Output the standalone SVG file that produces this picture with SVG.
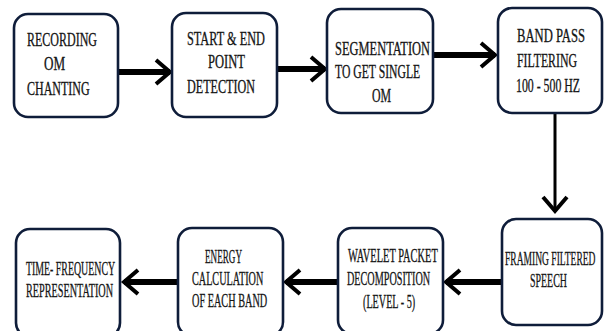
<svg xmlns="http://www.w3.org/2000/svg" width="604" height="331" viewBox="0 0 604 331">
<style>
.box{fill:#fff;stroke:#0f1d3a;stroke-width:2.6}
.t{font-family:"Liberation Serif","Times New Roman",serif;font-size:18px;fill:#141414;stroke:#141414;stroke-width:0.3}
.ar{stroke:#000;fill:none;stroke-width:6}
.av{stroke:#000;fill:none;stroke-width:3}
</style>
<defs>
<marker id="head" markerUnits="userSpaceOnUse" viewBox="-18 -16 22 32" markerWidth="22" markerHeight="32" refX="0" refY="0" orient="auto">
<path d="M-14,-12 L0,0 L-14,12" fill="none" stroke="#000" stroke-width="4" stroke-linejoin="miter"/>
</marker>
</defs>
<g id="connectors">
<line class="ar" x1="118" y1="72" x2="170" y2="72" marker-end="url(#head)"/>
<line class="ar" x1="277" y1="69" x2="325" y2="69" marker-end="url(#head)"/>
<line class="ar" x1="433" y1="55" x2="495" y2="55" marker-end="url(#head)"/>
<line class="av" x1="555" y1="113" x2="555" y2="211" marker-end="url(#head)"/>
<line class="ar" x1="502" y1="282" x2="446" y2="282" stroke-width="5" marker-end="url(#head)"/>
<line class="ar" x1="338" y1="282" x2="286" y2="282" stroke-width="5" marker-end="url(#head)"/>
<line class="ar" x1="178" y1="282" x2="124" y2="282" stroke-width="5" marker-end="url(#head)"/>
</g>
<g id="n1">
<rect class="box" x="14" y="14" width="104" height="103" rx="14"/>
<text class="t" transform="translate(27,46) scale(0.66,1)" textLength="106" lengthAdjust="spacingAndGlyphs">RECORDING</text>
<text class="t" transform="translate(44,70) scale(0.66,1)" textLength="32" lengthAdjust="spacingAndGlyphs">OM</text>
<text class="t" transform="translate(27,95) scale(0.66,1)" textLength="95" lengthAdjust="spacingAndGlyphs">CHANTING</text>
</g>
<g id="n2">
<rect class="box" x="172" y="13" width="105" height="104" rx="14"/>
<text class="t" transform="translate(187,45) scale(0.66,1)" textLength="118" lengthAdjust="spacingAndGlyphs">START &amp; END</text>
<text class="t" transform="translate(208,68) scale(0.66,1)" textLength="56" lengthAdjust="spacingAndGlyphs">POINT</text>
<text class="t" transform="translate(187,93) scale(0.66,1)" textLength="103" lengthAdjust="spacingAndGlyphs">DETECTION</text>
</g>
<g id="n3">
<rect class="box" x="327" y="9" width="106" height="104" rx="14"/>
<text class="t" transform="translate(335,55) scale(0.66,1)" textLength="144" lengthAdjust="spacingAndGlyphs">SEGMENTATION</text>
<text class="t" transform="translate(335,78) scale(0.66,1)" textLength="129" lengthAdjust="spacingAndGlyphs">TO GET SINGLE</text>
<text class="t" transform="translate(372,102) scale(0.66,1)" textLength="29" lengthAdjust="spacingAndGlyphs">OM</text>
</g>
<g id="n4">
<rect class="box" x="498" y="8" width="104" height="105" rx="14"/>
<text class="t" transform="translate(517,42) scale(0.66,1)" textLength="103" lengthAdjust="spacingAndGlyphs">BAND PASS</text>
<text class="t" transform="translate(517,67) scale(0.66,1)" textLength="91" lengthAdjust="spacingAndGlyphs">FILTERING</text>
<text class="t" transform="translate(516,92) scale(0.66,1)" textLength="97" lengthAdjust="spacingAndGlyphs">100 - 500 HZ</text>
</g>
<g id="n5">
<rect class="box" x="502" y="219" width="100" height="106" rx="14"/>
<text class="t" transform="translate(505,265) scale(0.53,1)">FRAMING FILTERED</text>
<text class="t" transform="translate(530,287) scale(0.66,1)" textLength="56" lengthAdjust="spacingAndGlyphs">SPEECH</text>
</g>
<g id="n6">
<rect class="box" x="338" y="228" width="105" height="106" rx="14"/>
<text class="t" transform="translate(348,262) scale(0.66,1)" textLength="136" lengthAdjust="spacingAndGlyphs">WAVELET PACKET</text>
<text class="t" transform="translate(347,285) scale(0.66,1)" textLength="126" lengthAdjust="spacingAndGlyphs">DECOMPOSITION</text>
<text class="t" transform="translate(363,308) scale(0.66,1)" textLength="79" lengthAdjust="spacingAndGlyphs">(LEVEL - 5)</text>
</g>
<g id="n7">
<rect class="box" x="178" y="228" width="105" height="108" rx="14"/>
<text class="t" transform="translate(205,263) scale(0.66,1)" textLength="56" lengthAdjust="spacingAndGlyphs">ENERGY</text>
<text class="t" transform="translate(192,285) scale(0.66,1)" textLength="108" lengthAdjust="spacingAndGlyphs">CALCULATION</text>
<text class="t" transform="translate(192,307) scale(0.66,1)" textLength="114" lengthAdjust="spacingAndGlyphs">OF EACH BAND</text>
</g>
<g id="n8">
<rect class="box" x="16" y="229" width="104" height="108" rx="14"/>
<text class="t" transform="translate(26,275) scale(0.66,1)" textLength="135" lengthAdjust="spacingAndGlyphs">TIME- FREQUENCY</text>
<text class="t" transform="translate(26,297) scale(0.66,1)" textLength="132" lengthAdjust="spacingAndGlyphs">REPRESENTATION</text>
</g>
</svg>
